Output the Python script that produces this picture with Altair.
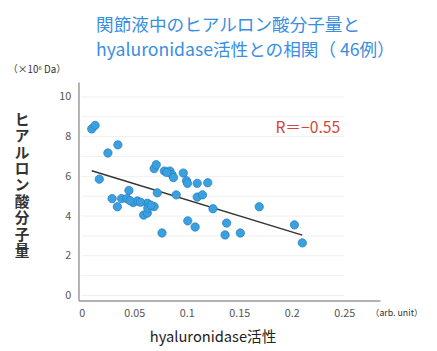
import altair as alt
import pandas as pd

activity = [0.0096, 0.0128, 0.025, 0.0345, 0.0168, 0.029, 0.034, 0.038, 0.043, 0.045,
            0.049, 0.053, 0.059, 0.0625, 0.0625, 0.063, 0.069, 0.072, 0.0765, 0.069,
            0.071, 0.0787, 0.084, 0.086, 0.0874, 0.0967, 0.0998, 0.1007, 0.110, 0.120,
            0.090, 0.110, 0.115, 0.125, 0.101, 0.108, 0.1365, 0.138, 0.151, 0.169,
            0.2025, 0.210, 0.046, 0.066, 0.081, 0.056]
mol_weight = [8.39, 8.57, 7.18, 7.59, 5.86, 4.88, 4.47, 4.88, 4.88, 5.29,
              4.68, 4.76, 4.05, 4.15, 4.65, 4.40, 4.48, 5.17, 3.15, 6.39,
              6.59, 6.27, 6.27, 6.09, 5.94, 6.17, 5.78, 5.65, 5.65, 5.68,
              5.07, 4.96, 5.07, 4.37, 3.76, 3.45, 3.05, 3.65, 3.15, 4.47,
              3.56, 2.65, 4.78, 4.55, 6.20, 4.70]
x_ticks = [0, 0.05, 0.1, 0.15, 0.2, 0.25]
y_ticks = [0, 1, 2, 3, 4, 5, 6, 7, 8, 9, 10]

FONT = "Noto Sans CJK JP"
df = pd.DataFrame({"x": activity, "y": mol_weight})
grid_df = pd.DataFrame({"y": y_ticks, "x0": [0] * len(y_ticks), "x1": [0.25] * len(y_ticks)})

xs = alt.Scale(domain=[-0.003, 0.284], nice=False, zero=False)
ys = alt.Scale(domain=[-0.25, 10.75], nice=False, zero=False)

grid = alt.Chart(grid_df).mark_rule(color="#efefef", strokeWidth=1).encode(
    x=alt.X("x0:Q", scale=xs,
            axis=alt.Axis(values=x_ticks, format="~g", title="hyaluronidase活性", grid=False, ticks=False,
                          domainColor="#999", domainWidth=1.5, labelFont=FONT, labelFontSize=11,
                          labelColor="#555", labelPadding=7, titleFont=FONT, titleFontSize=15,
                          titleFontWeight="normal", titleColor="#222", titleX=137, titleY=37,
                          titleAlign="center", titleBaseline="middle")),
    x2="x1:Q",
    y=alt.Y("y:Q", scale=ys,
            axis=alt.Axis(values=y_ticks, title=list("ヒアルロン酸分子量"), grid=False, ticks=False,
                          domainColor="#999", domainWidth=1.5, labelFont=FONT, labelFontSize=11,
                          labelColor="#555", labelPadding=8, titleFont=FONT, titleFontSize=15,
                          titleFontWeight="bold", titleColor="#333", titleAngle=0,
                          titleLineHeight=16.8, titleX=-58, titleY=38, titleAlign="center",
                          titleBaseline="middle")),
)

points = alt.Chart(df).mark_circle(size=72, color="#3aa0e0", opacity=1,
                                   stroke="#2a80c0", strokeWidth=0.8).encode(
    x=alt.X("x:Q", scale=xs), y=alt.Y("y:Q", scale=ys))

reg = alt.Chart(df).transform_regression("x", "y").mark_line(color="#333", strokeWidth=1.4).encode(
    x=alt.X("x:Q", scale=xs), y=alt.Y("y:Q", scale=ys))

r_text = alt.Chart(pd.DataFrame({"x": [0.246], "y": [8.42], "t": ["R＝−0.55"]})).mark_text(
    font=FONT, fontSize=16, color="#d0463c", align="right", baseline="middle").encode(
    x=alt.X("x:Q", scale=xs), y=alt.Y("y:Q", scale=ys), text="t:N")

unit_y = alt.Chart(pd.DataFrame({"t": ["（×10⁶ Da）"]})).mark_text(
    font=FONT, fontSize=10, color="#333", align="left", baseline="middle").encode(
    x=alt.value(-72), y=alt.value(-12), text="t:N")

unit_x = alt.Chart(pd.DataFrame({"t": ["（arb. unit）"]})).mark_text(
    font=FONT, fontSize=9, color="#333", align="center", baseline="middle").encode(
    x=alt.value(325), y=alt.value(236), text="t:N")

chart = alt.layer(grid, reg, points, r_text, unit_y, unit_x).properties(
    width=308, height=223,
    autosize=alt.AutoSizeParams(type="none"),
    padding={"left": 72, "top": 72, "right": 50, "bottom": 52},
    title=alt.TitleParams(["関節液中のヒアルロン酸分子量と", "hyaluronidase活性との相関（ 46例）"],
                          font=FONT, fontSize=18, fontWeight="normal", color="#3a8ee0",
                          anchor="start", frame="group", dx=18, offset=6, lineHeight=25),
).configure_view(stroke=None)

chart.save("out.html", embed_options={"renderer": "svg", "actions": False})
